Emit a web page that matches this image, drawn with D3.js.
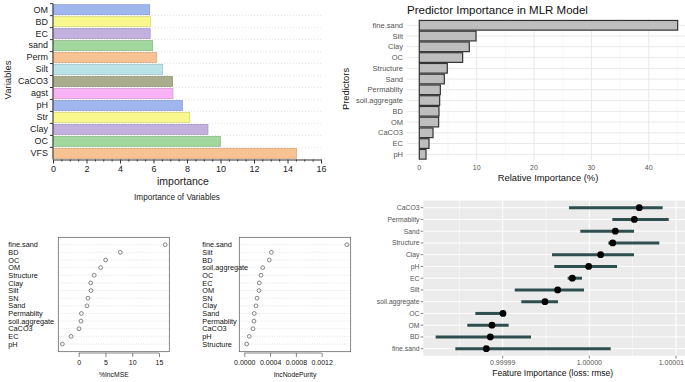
<!DOCTYPE html>
<html>
<head>
<meta charset="utf-8">
<script src="https://cdn.jsdelivr.net/npm/d3@7.9.0/dist/d3.min.js"></script>
<style>
  html, body { margin: 0; padding: 0; background: #fff; }
  svg { display: block; font-family: "Liberation Sans", Arial, sans-serif; }
</style>
</head>
<body>
<svg id="chart" width="685" height="382"></svg>
<script>
// ---- panel A: importance of variables (coloured bars)
const varNames = ['OM', 'BD', 'EC', 'sand', 'Perm', 'Silt', 'CaCO3', 'agst', 'pH', 'Str', 'Clay', 'OC', 'VFS'];
const varImportance = [5.77, 5.82, 5.8, 5.95, 6.19, 6.55, 7.14, 7.16, 7.72, 8.16, 9.25, 9.99, 14.53];
const varColors = ['#a0b6ee', '#f8f88e', '#c2b0de', '#a2d79e', '#f8c392', '#b9e3e6', '#a9ad8e', '#f8b2f6',
                   '#a0b6ee', '#f8f88e', '#c2b0de', '#a2d79e', '#f8c392'];
const varTicks = [0, 2, 4, 6, 8, 10, 12, 14, 16];

// ---- panel B: MLR relative importance
const mlrNames = ['fine.sand', 'Silt', 'Clay', 'OC', 'Structure', 'Sand', 'Permablity', 'soil.aggregate', 'BD', 'OM', 'CaCO3', 'EC', 'pH'];
const mlrImportance = [45.05, 9.89, 8.72, 7.56, 4.88, 4.36, 3.67, 3.55, 3.43, 3.37, 2.39, 1.69, 1.17];
const mlrTicks = [0, 10, 20, 30, 40];

// ---- panel C: random forest %IncMSE
const mseNames = ['fine.sand', 'BD', 'OC', 'OM', 'Structure', 'Clay', 'Silt', 'SN', 'Sand', 'Permablity', 'soil.aggregate', 'CaCO3', 'EC', 'pH'];
const mseValues = [16.16, 7.77, 5.03, 4.1, 2.9, 2.24, 2.3, 1.74, 1.55, 0.5, 0.43, 0.06, -1.43, -3.05];
const mseTicks = [0, 5, 10, 15];

// ---- panel D: random forest IncNodePurity
const purityNames = ['fine.sand', 'Silt', 'BD', 'soil.aggregate', 'OC', 'EC', 'OM', 'SN', 'Clay', 'Sand', 'Permablity', 'CaCO3', 'pH', 'Structure'];
const purityValues = [0.00159, 0.000419, 0.000388, 0.000285, 0.000259, 0.000233, 0.000228, 0.000197, 0.000181, 0.000155, 0.00015, 0.000135, 0.0000775, 0.000037];
const purityTicks = [0, 0.0004, 0.0008, 0.0012];

// ---- panel E: feature importance (loss: rmse), point + interval
const fiNames = ['CaCO3', 'Permablity', 'Sand', 'Structure', 'Clay', 'pH', 'EC', 'Silt', 'soil.aggregate', 'OC', 'OM', 'BD', 'fine.sand'];
const fiValue = [1.00000577, 1.0000052, 1.000003, 1.0000027, 1.00000131, 0.99999993, 0.99999804, 0.99999635, 0.99999488, 0.99999003, 0.99998876, 0.99998857, 0.99998811];
const fiLow   = [0.99999766, 1.00000266, 0.99999896, 1.0000022, 0.99999569, 0.99999596, 0.9999975, 0.99999139, 0.99999215, 0.99998684, 0.99998591, 0.99998226, 0.99998453];
const fiHigh  = [1.00000847, 1.00000917, 1.00000516, 1.00000808, 1.00000516, 1.0000032, 0.99999916, 0.99999939, 0.99999639, 0.9999903, 0.99999069, 0.99999327, 1.00000247];
const fiTicks = [0.99999, 1.00000, 1.00001];

const svg = d3.select('#chart');

// ================= panel A =================
{
  const g = svg.append('g');
  const x = d3.scaleLinear().domain([0, 16]).range([53, 321]);
  const y = d3.scaleBand().domain(varNames).range([3.5, 159.5]).paddingInner(0.17).paddingOuter(0.1);

  // faint dotted row lines
  varNames.forEach(n => {
    g.append('line')
      .attr('x1', x(0)).attr('x2', x(16))
      .attr('y1', y(n) + y.bandwidth() + 1).attr('y2', y(n) + y.bandwidth() + 1)
      .attr('stroke', '#dcdcdc').attr('stroke-dasharray', '1,2').attr('stroke-width', 0.8);
  });

  g.selectAll('rect.bar')
    .data(varNames)
    .join('rect')
    .attr('class', 'bar')
    .attr('x', x(0))
    .attr('y', d => y(d))
    .attr('width', (d, i) => x(varImportance[i]) - x(0))
    .attr('height', y.bandwidth())
    .attr('fill', (d, i) => varColors[i])
    .attr('stroke', (d, i) => d3.color(varColors[i]).darker(0.4))
    .attr('stroke-width', 0.8);

  const xAxis = g.append('g').attr('transform', 'translate(0,159.5)')
    .call(d3.axisBottom(x).tickValues(varTicks).tickSize(4).tickPadding(2).tickSizeOuter(0));
  xAxis.selectAll('text').attr('font-size', 9).attr('fill', '#222');
  xAxis.select('.domain').attr('stroke', '#333');
  xAxis.selectAll('.tick line').attr('stroke', '#333');
  const minor = g.append('g').attr('transform', 'translate(0,159.5)')
    .call(d3.axisBottom(x).tickValues(d3.range(0, 16.01, 0.5).filter(v => v % 2 !== 0)).tickSize(2).tickFormat(''));
  minor.select('.domain').remove();
  minor.selectAll('line').attr('stroke', '#333');

  const yAxis = g.append('g').attr('transform', 'translate(53,0)')
    .call(d3.axisLeft(y).tickSize(0).tickPadding(5));
  yAxis.selectAll('text').attr('font-size', 9).attr('fill', '#222');
  yAxis.select('.domain').attr('stroke', '#333').attr('d', 'M0,3.5V159.5');
  // small ticks between rows
  varNames.forEach(n => {
    g.append('line').attr('x1', 50).attr('x2', 53)
      .attr('y1', y(n) - 1).attr('y2', y(n) - 1).attr('stroke', '#333');
  });

  g.append('text').attr('x', (x(0) + x(16)) / 2 - 4).attr('y', 185)
    .attr('text-anchor', 'middle').attr('font-size', 10.5).attr('fill', '#222').text('importance');
  g.append('text').attr('transform', 'translate(11,80) rotate(-90)')
    .attr('text-anchor', 'middle').attr('font-size', 9.5).attr('fill', '#222').text('Variables');
  g.append('text').attr('x', 177).attr('y', 200)
    .attr('text-anchor', 'middle').attr('font-size', 8.2).attr('fill', '#222').text('Importance of Variables');
}

// ================= panel B =================
{
  const g = svg.append('g');
  const x = d3.scaleLinear().domain([0, 40]).range([419.3, 648.7]);
  const step = 10.75;
  const y = d3.scaleBand().domain(mlrNames).range([25.3 - step / 2, 154.3 + step / 2]);
  const top = 25.3 - 0.6 * step, bottom = 154.3 + 0.6 * step;
  const left = 406.5, right = 685;

  // minor vertical grid
  [5, 15, 25, 35, 45].forEach(v => {
    g.append('line').attr('x1', x(v)).attr('x2', x(v)).attr('y1', top).attr('y2', bottom)
      .attr('stroke', '#f1f1f1').attr('stroke-width', 0.6);
  });
  mlrTicks.forEach(v => {
    g.append('line').attr('x1', x(v)).attr('x2', x(v)).attr('y1', top).attr('y2', bottom)
      .attr('stroke', '#e6e6e6').attr('stroke-width', 0.9);
  });
  mlrNames.forEach(n => {
    const cy = y(n) + step / 2;
    g.append('line').attr('x1', left).attr('x2', right).attr('y1', cy).attr('y2', cy)
      .attr('stroke', '#e6e6e6').attr('stroke-width', 0.9);
  });

  g.selectAll('rect.bar')
    .data(mlrNames)
    .join('rect')
    .attr('x', x(0))
    .attr('y', d => y(d) + step * 0.05)
    .attr('width', (d, i) => x(mlrImportance[i]) - x(0))
    .attr('height', step * 0.9)
    .attr('fill', '#bebebe')
    .attr('stroke', '#333')
    .attr('stroke-width', 1.2);

  mlrNames.forEach(n => {
    g.append('text').attr('x', 403).attr('y', y(n) + step / 2).attr('dy', '0.35em')
      .attr('text-anchor', 'end').attr('font-size', 7.5).attr('fill', '#555').text(n);
  });
  mlrTicks.forEach(v => {
    g.append('text').attr('x', x(v)).attr('y', 169.5)
      .attr('text-anchor', 'middle').attr('font-size', 7).attr('fill', '#555').text(v);
  });
  g.append('text').attr('x', 548).attr('y', 180.5)
    .attr('text-anchor', 'middle').attr('font-size', 9.4).attr('fill', '#111').text('Relative Importance (%)');
  g.append('text').attr('transform', 'translate(349,89) rotate(-90)')
    .attr('text-anchor', 'middle').attr('font-size', 9.4).attr('fill', '#111').text('Predictors');
  g.append('text').attr('x', 407).attr('y', 13.5)
    .attr('font-size', 11.5).attr('fill', '#111').text('Predictor Importance in MLR Model');
}

// ================= panels C and D (dot charts) =================
function dotChart(names, values, ticks, box, domain, labelX, title, fmt) {
  const g = svg.append('g');
  const x = d3.scaleLinear().domain(domain).range([box.x0, box.x1]);
  const rowStep = 7.64;
  const y = d3.scalePoint().domain(names).range([244.7, 244.7 + rowStep * (names.length - 1)]);

  names.forEach((n, i) => {
    g.append('line').attr('x1', box.x0i).attr('x2', box.x1i)
      .attr('y1', y(n)).attr('y2', y(n))
      .attr('stroke', '#cfcfcf').attr('stroke-dasharray', '1,1.5').attr('stroke-width', 0.6);
    g.append('circle').attr('cx', x(values[i])).attr('cy', y(n)).attr('r', 1.9)
      .attr('fill', 'none').attr('stroke', '#555').attr('stroke-width', 0.7);
    g.append('text').attr('x', labelX).attr('y', y(n)).attr('dy', '0.36em')
      .attr('font-size', 7.3).attr('fill', '#111').text(n);
  });
  g.append('rect').attr('x', box.x0i).attr('y', 237.3)
    .attr('width', box.x1i - box.x0i).attr('height', 351.7 - 237.3)
    .attr('fill', 'none').attr('stroke', '#555').attr('stroke-width', 0.7);
  const ax = g.append('g').attr('transform', 'translate(0,353)')
    .call(d3.axisBottom(x).tickValues(ticks).tickSize(4).tickPadding(3).tickFormat(fmt));
  ax.select('.domain').attr('stroke', '#555').attr('stroke-width', 0.7)
    .attr('d', `M${x(ticks[0])},0H${x(ticks[ticks.length - 1])}`);
  ax.selectAll('.tick line').attr('stroke', '#555').attr('stroke-width', 0.7);
  ax.selectAll('text').attr('font-size', 7).attr('fill', '#111');
  g.append('text').attr('x', (box.x0i + box.x1i) / 2).attr('y', 376.5)
    .attr('text-anchor', 'middle').attr('font-size', 6.8).attr('fill', '#111').text(title);
}
dotChart(mseNames, mseValues, mseTicks,
  { x0: 78.7, x1: 159, x0i: 58.3, x1i: 169.3 }, [0, 15], 8.3, '%IncMSE', d3.format('d'));
dotChart(purityNames, purityValues, purityTicks,
  { x0: 244.3, x1: 321.7, x0i: 239.3, x1i: 350.7 }, [0, 0.0012], 202.3, 'IncNodePurity', d3.format('.4f'));

// ================= panel E =================
{
  const g = svg.append('g');
  const x = d3.scaleLinear().domain([0.99999, 1.00000]).range([502.7, 589.3]);
  const step = 11.75;
  const y = d3.scalePoint().domain(fiNames).range([207.7, 207.7 + step * (fiNames.length - 1)]);
  const top = 207.7 - 0.6 * step, bottom = 207.7 + step * (fiNames.length - 1) + 0.6 * step;
  const left = 423.3, right = 685;

  g.append('rect').attr('x', left).attr('y', top).attr('width', right - left).attr('height', bottom - top)
    .attr('fill', '#ebebeb');
  [0.999985, 0.999995, 1.000005, 1.000015].forEach(v => {
    g.append('line').attr('x1', x(v)).attr('x2', x(v)).attr('y1', top).attr('y2', bottom)
      .attr('stroke', '#fff').attr('stroke-width', 0.5);
  });
  fiTicks.forEach(v => {
    g.append('line').attr('x1', x(v)).attr('x2', x(v)).attr('y1', top).attr('y2', bottom)
      .attr('stroke', '#fff').attr('stroke-width', 1);
  });
  fiNames.forEach(n => {
    g.append('line').attr('x1', left).attr('x2', right).attr('y1', y(n)).attr('y2', y(n))
      .attr('stroke', '#fff').attr('stroke-width', 1);
  });

  fiNames.forEach((n, i) => {
    g.append('line').attr('x1', x(fiLow[i])).attr('x2', x(fiHigh[i]))
      .attr('y1', y(n)).attr('y2', y(n))
      .attr('stroke', '#2f4f4f').attr('stroke-width', 3);
  });
  fiNames.forEach((n, i) => {
    g.append('circle').attr('cx', x(fiValue[i])).attr('cy', y(n)).attr('r', 3.4).attr('fill', '#000');
  });

  fiNames.forEach(n => {
    g.append('line').attr('x1', 420.6).attr('x2', left).attr('y1', y(n)).attr('y2', y(n))
      .attr('stroke', '#333').attr('stroke-width', 0.6);
    g.append('text').attr('x', 419.5).attr('y', y(n)).attr('dy', '0.35em')
      .attr('text-anchor', 'end').attr('font-size', 6.8).attr('fill', '#555').text(n);
  });
  fiTicks.forEach((v, i) => {
    const last = i === fiTicks.length - 1;
    g.append('line').attr('x1', x(v)).attr('x2', x(v)).attr('y1', bottom).attr('y2', bottom + 2.7)
      .attr('stroke', '#333').attr('stroke-width', 0.6);
    // the right-most label would run past the page edge, so pin it to the edge
    g.append('text').attr('x', last ? 684 : x(v)).attr('y', 365)
      .attr('text-anchor', last ? 'end' : 'middle').attr('font-size', 7).attr('fill', '#555')
      .text(d3.format('.5f')(v));
  });
  g.append('text').attr('x', 552.7).attr('y', 375.5)
    .attr('text-anchor', 'middle').attr('font-size', 8.5).attr('fill', '#111').text('Feature Importance (loss: rmse)');
}
</script>
</body>
</html>
